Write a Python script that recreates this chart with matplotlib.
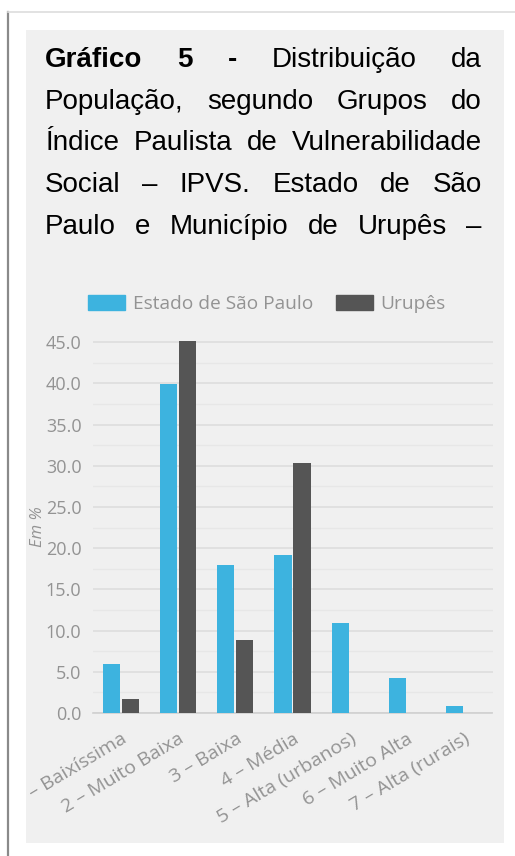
import numpy as np
import matplotlib.pyplot as plt
from matplotlib.patches import Rectangle, Patch
from matplotlib.lines import Line2D

categorias = ["1 – Baixíssima", "2 – Muito Baixa", "3 – Baixa", "4 – Média",
              "5 – Alta (urbanos)", "6 – Muito Alta", "7 – Alta (rurais)"]
estado_sp = [6.0, 39.9, 18.0, 19.2, 10.9, 4.3, 0.8]
urupes = [1.7, 45.1, 8.9, 30.4, 0.0, 0.0, 0.0]
series = ["Estado de São Paulo", "Urupês"]
yticks = np.arange(0, 50, 5)

titulo = [
    [("Gráfico", "bold"), ("5", "bold"), ("-", "bold"), ("Distribuição", "normal"), ("da", "normal")],
    "População, segundo Grupos do",
    "Índice Paulista de Vulnerabilidade",
    "Social – IPVS. Estado de São",
    "Paulo e Município de Urupês –",
]

W, H = 515, 856
AZUL = "#3db3df"
CINZA = "#555555"
TXT = "#939393"
FUNDO = "#f0f0f0"

fig = plt.figure(figsize=(W / 100, H / 100), dpi=100)
fig.patch.set_facecolor("white")


def fx(x):
    return x / W


def fy(y):
    return 1 - y / H


# moldura e painel
painel = Rectangle((fx(26), fy(843)), fx(504) - fx(26), fy(30) - fy(843),
                   transform=fig.transFigure, facecolor=FUNDO, edgecolor="none", zorder=-1)
fig.patches.append(painel)
fig.lines.append(Line2D([fx(8), fx(8)], [fy(12), fy(856)], transform=fig.transFigure,
                        color="#8a8a8a", lw=1.6))
fig.lines.append(Line2D([fx(8), fx(515)], [fy(12), fy(12)], transform=fig.transFigure,
                        color="#dddddd", lw=1.2))

# titulo justificado
renderer = fig.canvas.get_renderer()
esq, dir_ = 45, 482
base = 67
for i, linha in enumerate(titulo):
    if isinstance(linha, str):
        palavras = [(p, "normal") for p in linha.split()]
    else:
        palavras = linha
    textos = []
    for p, peso in palavras:
        t = fig.text(0, fy(base + i * 41.7), p, fontsize=20, fontweight=peso,
                     family="Liberation Sans", color="black", va="baseline", ha="left")
        textos.append(t)
    larg = [t.get_window_extent(renderer).width for t in textos]
    gap = (dir_ - esq - sum(larg)) / (len(textos) - 1)
    x = esq
    for t, w in zip(textos, larg):
        t.set_x(fx(x))
        x += w + gap

# grafico
ax = fig.add_axes([fx(92.5), fy(713), fx(492.5) - fx(92.5), fy(334) - fy(713)])
ax.set_zorder(1)
ax.set_facecolor(FUNDO)
x = np.arange(len(categorias))
ax.bar(x - 0.167, estado_sp, 0.30, color=AZUL, zorder=3)
ax.bar(x + 0.167, urupes, 0.30, color=CINZA, zorder=3)
ax.set_xlim(-0.5, len(categorias) - 0.5)
ax.set_ylim(0, 46)
ax.set_yticks(yticks)
ax.set_yticklabels([f"{v:.1f}" for v in yticks], family="Open Sans", fontsize=13, color=TXT)
ax.set_yticks(np.arange(2.5, 46, 5), minor=True)
ax.grid(axis="y", which="major", color="#dcdcdc", lw=1.1, zorder=0)
ax.grid(axis="y", which="minor", color="#e7e7e7", lw=0.9, zorder=0)
ax.set_xticks(x)
ax.set_xticklabels(categorias, rotation=31, ha="right", rotation_mode="anchor",
                   family="Open Sans", fontsize=14, color=TXT)
ax.tick_params(axis="both", which="both", length=0)
ax.tick_params(axis="y", pad=8)
ax.tick_params(axis="x", pad=12)
for s in ["top", "right", "left"]:
    ax.spines[s].set_visible(False)
ax.spines["bottom"].set_color("#d0d0d0")
ax.spines["bottom"].set_linewidth(1.2)
for lab in ax.get_xticklabels():
    lab.set_clip_on(True)
    lab.set_clip_path(painel)

fig.text(fx(38), fy(527), "Em %", rotation=90, family="Open Sans", style="italic",
         fontsize=12, color=TXT, ha="center", va="center", zorder=2)

handles = [Patch(color=AZUL), Patch(color=CINZA)]
fig.legend(handles, series, loc="center", bbox_to_anchor=(fx(267), fy(304)), ncol=2,
           frameon=False, prop={"family": "Open Sans", "size": 13.8}, labelcolor=TXT,
           handlelength=1.95, handleheight=0.85, handletextpad=0.38, columnspacing=1.2)

fig.savefig("out.png", dpi=100)
